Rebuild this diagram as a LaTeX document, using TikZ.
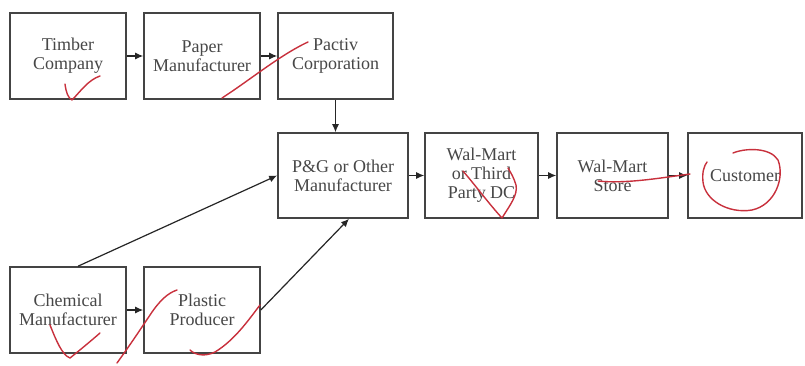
\documentclass[tikz,border=0pt]{standalone}
\usepackage{fontspec}
\setmainfont{Liberation Serif}
\usetikzlibrary{arrows.meta,calc}
\definecolor{boxline}{HTML}{444444}
\definecolor{ink}{HTML}{C8303C}
\begin{document}
\begin{tikzpicture}[x=1pt,y=-1pt,
  box/.style={draw=boxline,line width=1.6pt,minimum width=116pt,minimum height=86pt,
    align=center,font=\fontsize{18}{19}\selectfont,text=black!72,inner sep=0pt},
  conn/.style={draw=black!85,line width=1.2pt,-{Latex[length=8pt,width=7pt]}},
  pen/.style={draw=ink,line width=1.4pt,line cap=round,line join=round}]
\useasboundingbox (0,0) rectangle (805,365);
\fill[white] (0,0) rectangle (805,365);
\node[box] (timber) at (68,56) {Timber\\Company};
\node[box] (paper) at (202,56) {Paper\\Manufacturer};
\node[box,minimum width=115pt] (pactiv) at (335.5,56) {Pactiv\\Corporation};
\node[box,minimum width=130pt,minimum height=85pt] (pg) at (343,175.5) {P\&G or Other\\Manufacturer};
\node[box,minimum width=113pt,minimum height=85pt] (dc) at (481.5,175.5) {Wal-Mart\\or Third\\Party DC};
\node[box,minimum width=111pt,minimum height=85pt] (store) at (612.5,175.5) {Wal-Mart\\Store};
\node[box,minimum width=114pt,minimum height=85pt] (cust) at (745,175.5) {Customer};
\node[box] (chem) at (68,310) {Chemical\\Manufacturer};
\node[box] (plastic) at (202,310) {Plastic\\Producer};
\draw[conn] (timber) -- (paper);
\draw[conn] (paper) -- (pactiv);
\draw[conn] (pactiv.south) -- (pactiv.south |- pg.north);
\draw[conn] (pg) -- (dc);
\draw[conn] (dc) -- (store);
\draw[conn] (store) -- (cust);
\draw[conn] (chem) -- (plastic);
\draw[conn] ($(chem.north)+(10,0)$) -- (pg.west);
\draw[conn] (plastic.east) -- ($(pg.south)+(6,0)$);
% red handwritten marks
\draw[pen] (65,84) .. controls (66,92) and (68,98) .. (72,100) .. controls (80,92) and (88,80) .. (100,76);
\draw[pen] (222,98) .. controls (250,80) and (280,55) .. (308,42);
\draw[pen] (463,171) .. controls (475,185) and (490,205) .. (502,218) .. controls (510,205) and (518,195) .. (516,185) .. controls (514,178) and (511,173) .. (508,168);
\draw[pen] (598,181) .. controls (625,184) and (660,178) .. (690,174);
\draw[pen] (733,153) .. controls (745,148) and (770,147) .. (778,160) .. controls (785,178) and (775,205) .. (752,210) .. controls (728,214) and (705,200) .. (703,182) .. controls (702,172) and (704,166) .. (707,162);
\draw[pen] (50,325) .. controls (56,340) and (62,355) .. (70,358) .. controls (80,350) and (92,340) .. (100,333);
\draw[pen] (117,363) .. controls (130,345) and (140,330) .. (150,315) .. controls (160,300) and (168,293) .. (177,290);
\draw[pen] (190,350) .. controls (195,355) and (205,357) .. (215,352) .. controls (235,340) and (250,318) .. (260,305);
\end{tikzpicture}
\end{document}
